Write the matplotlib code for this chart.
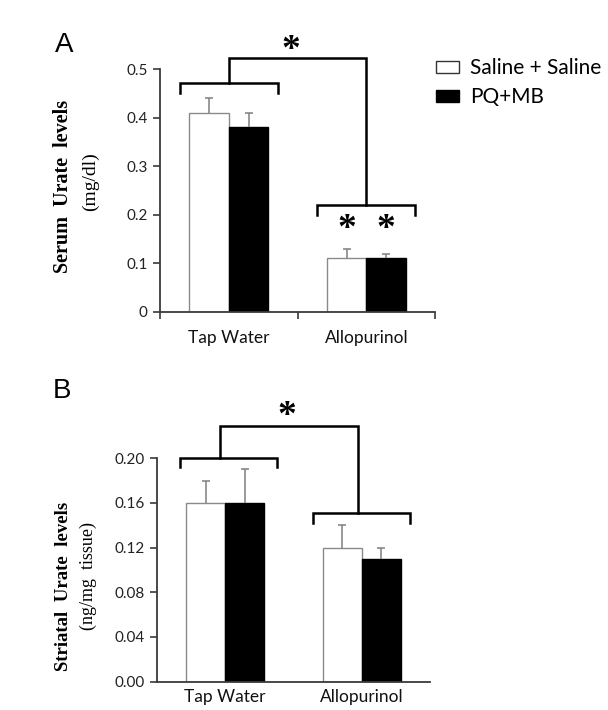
import matplotlib
matplotlib.use("Agg")
import matplotlib.pyplot as plt
from matplotlib.patches import Patch
import numpy as np

# ---------------- data ----------------
groups = ["Tap Water", "Allopurinol"]
series_names = ["Saline + Saline", "PQ+MB"]

serum_saline = [0.41, 0.11]
serum_saline_err = [0.03, 0.02]
serum_pqmb = [0.38, 0.11]
serum_pqmb_err = [0.03, 0.01]
serum_yticks = [0, 0.1, 0.2, 0.3, 0.4, 0.5]
serum_yticklabels = ["0", "0.1", "0.2", "0.3", "0.4", "0.5"]

striatal_saline = [0.16, 0.12]
striatal_saline_err = [0.02, 0.02]
striatal_pqmb = [0.16, 0.11]
striatal_pqmb_err = [0.03, 0.01]
striatal_yticks = [0.0, 0.04, 0.08, 0.12, 0.16, 0.20]
striatal_yticklabels = ["0.00", "0.04", "0.08", "0.12", "0.16", "0.20"]

# ---------------- style ----------------
SANS = ["Lato", "DejaVu Sans"]
SERIF = ["Liberation Serif", "DejaVu Serif"]
AX_COL = "#3a3a3a"
ERR_COL = "#7f7f7f"
plt.rcParams["font.family"] = SANS

fig = plt.figure(figsize=(6.08, 7.10), dpi=100)

W = 0.287  # bar width in category units
x = np.arange(len(groups))


def draw_panel(ax, sal, sal_err, pq, pq_err, ymax, yticks, yticklabels, boundary_ticks, label_pad):
    xs = x - W / 2
    xp = x + W / 2
    ax.bar(xs, sal, W, color="white", edgecolor="#8a8a8a", linewidth=1.0, zorder=2)
    ax.bar(xp, pq, W, color="black", edgecolor="black", linewidth=1.0, zorder=2)
    for xx, vals, errs in ((xs, sal, sal_err), (xp, pq, pq_err)):
        _, caps, _ = ax.errorbar(xx, vals, yerr=[np.zeros(len(vals)), errs], fmt="none",
                                 ecolor=ERR_COL, elinewidth=1.1, capsize=3, capthick=1.1, zorder=3)
        caps[0].set_visible(False)
    ax.set_xlim(-0.5, 1.5)
    ax.set_ylim(0, ymax)
    for s in ("top", "right"):
        ax.spines[s].set_visible(False)
    for s in ("left", "bottom"):
        ax.spines[s].set_color(AX_COL)
        ax.spines[s].set_linewidth(1.3)
    ax.set_yticks(yticks)
    ax.set_yticklabels(yticklabels, fontsize=11, color="#222222")
    ax.tick_params(axis="y", direction="out", length=5, width=1.2, color=AX_COL, pad=4)
    if boundary_ticks:
        ax.set_xticks([-0.5, 0.5, 1.5])
        ax.set_xticklabels([])
        ax.tick_params(axis="x", which="major", direction="out", length=5, width=1.2, color=AX_COL)
    else:
        ax.set_xticks([])
    ax.set_xticks(x, minor=True)
    ax.set_xticklabels(groups, minor=True, fontsize=12.5, color="#111111")
    ax.tick_params(axis="x", which="minor", length=0, pad=label_pad)


def bracket(ax, x0, x1, y, drop, lw=1.8):
    ax.plot([x0, x0, x1, x1], [y - drop, y, y, y - drop], color="black", lw=lw,
            clip_on=False, solid_joinstyle="miter", zorder=4)


def link(ax, xa, ya, xb, yb, ytop, lw=1.8):
    ax.plot([xa, xa, xb, xb], [ya, ytop, ytop, yb], color="black", lw=lw,
            clip_on=False, solid_joinstyle="miter", zorder=4)


def star(ax, xx, yy, size=27):
    ax.text(xx, yy, "*", ha="center", va="center", fontsize=size, fontweight="bold",
            family=["Liberation Serif", "DejaVu Serif"], clip_on=False)


# ---------------- Panel A ----------------
axA = fig.add_axes([0.2632, 0.5610, 0.4523, 0.3414])
draw_panel(axA, serum_saline, serum_saline_err, serum_pqmb, serum_pqmb_err,
           0.5, serum_yticks, serum_yticklabels, True, 13)
bh = 0.355
bracket(axA, x[0] - bh, x[0] + bh, 0.471, 0.019)
bracket(axA, x[1] - bh, x[1] + bh, 0.220, 0.021)
link(axA, x[0], 0.471, x[1], 0.220, 0.5227)
star(axA, 0.45, 0.538)
star(axA, x[1] - W / 2, 0.170)
star(axA, x[1] + W / 2, 0.170)

axA.text(-0.353, 0.517, "Serum  Urate  levels", transform=axA.transAxes, rotation=90,
         ha="center", va="center", fontsize=14.5, fontweight="bold", family=SERIF)
axA.text(-0.2545, 0.537, "(mg/dl)", transform=axA.transAxes, rotation=90,
         ha="center", va="center", fontsize=14, family=SERIF)

handles = [Patch(facecolor="white", edgecolor="#333333", linewidth=1.0),
           Patch(facecolor="black", edgecolor="black", linewidth=1.0)]
fig.legend(handles, series_names, loc="upper left", bbox_to_anchor=(436 / 608, 1 - 58 / 710),
           bbox_transform=fig.transFigure, frameon=False, fontsize=15,
           handlelength=1.1, handleheight=0.5, handletextpad=0.55, labelspacing=0.45,
           borderpad=0, borderaxespad=0)

fig.text(64 / 608, 1 - 45 / 710, "A", ha="center", va="center", fontsize=20,
         family=["Liberation Sans", "DejaVu Sans"])

# ---------------- Panel B ----------------
axB = fig.add_axes([0.2582, 0.0399, 0.4490, 0.3146])
draw_panel(axB, striatal_saline, striatal_saline_err, striatal_pqmb, striatal_pqmb_err,
           0.20, striatal_yticks, striatal_yticklabels, False, 5)
bracket(axB, x[0] - 0.33, x[0] + 0.38, 0.2006, 0.0086)
bracket(axB, x[1] - 0.36, x[1] + 0.35, 0.1508, 0.009)
link(axB, x[0] - 0.04, 0.2006, x[1] - 0.03, 0.1508, 0.2289)
star(axB, 0.45, 0.2375)

axB.text(-0.344, 0.425, "Striatal  Urate  levels", transform=axB.transAxes, rotation=90,
         ha="center", va="center", fontsize=13.5, fontweight="bold", family=SERIF)
axB.text(-0.253, 0.471, "(ng/mg  tissue)", transform=axB.transAxes, rotation=90,
         ha="center", va="center", fontsize=13, family=SERIF)

fig.text(62 / 608, 1 - 391 / 710, "B", ha="center", va="center", fontsize=20,
         family=["Liberation Sans", "DejaVu Sans"])

fig.savefig("out.png", dpi=100)
